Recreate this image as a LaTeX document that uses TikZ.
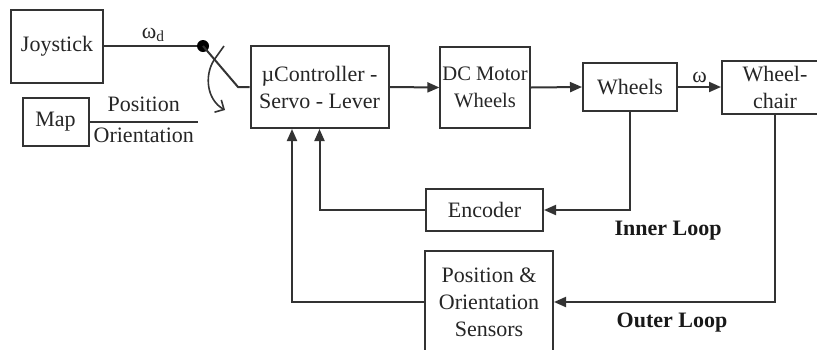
\documentclass[tikz,border=0pt]{standalone}
\usepackage{fontspec}
\setmainfont{Liberation Serif}
\usetikzlibrary{arrows.meta,positioning}
\tikzset{
  block/.style={draw=black!80, line width=1pt, fill=white, align=center, inner sep=1pt, text=black!85},
  sig/.style={-{Triangle[length=6pt,width=5pt]}, line width=1pt, black!80},
  wire/.style={line width=1pt, black!80},
  lbl/.style={inner sep=1.5pt, text=black!85},
  looplabel/.style={font=\fontsize{11}{13}\selectfont\bfseries, text=black!90}
}

\begin{document}
\begin{tikzpicture}[x=0.5pt,y=-0.5pt,font=\fontsize{11}{13.5}\selectfont]
  \useasboundingbox (0,0) rectangle (817,349);
  \clip (0,0) rectangle (817,349);
  \fill[white] (0,0) rectangle (817,349);
  % blocks
  \node[block, minimum width=46pt, minimum height=36.5pt] (joy) at (57,46) {Joystick};
  \node[block, minimum width=33pt, minimum height=24pt] (map) at (55.5,121.5) {Map};
  \node[block, minimum width=69pt, minimum height=41pt] (ctrl) at (319.5,87) {µController -\\Servo - Lever};
  \node[block, font=\fontsize{10.3}{13.5}\selectfont, minimum width=44pt, minimum height=40.5pt] (motor) at (485,87.5) {DC Motor\\Wheels};
  \node[block, minimum width=47pt, minimum height=24pt] (wheels) at (630,87) {Wheels};
  \node[block, minimum width=53pt, minimum height=26.5pt] (chair) at (775,87) {Wheel-\\chair};
  \node[block, minimum width=58.5pt, minimum height=21pt] (enc) at (484.5,210) {Encoder};
  \node[block, minimum width=64pt, minimum height=51pt] (sens) at (489,302) {Position \&\\Orientation\\Sensors};
  % switch
  \coordinate (sw) at (203,46);
  \coordinate (knee) at (238,87);
  \coordinate (mapend) at (198,121.5);
  \draw[wire] (joy.east) -- node[lbl, above] {ω\textsubscript{d}} (sw);
  \fill[black] (sw) circle (3pt);
  \draw[wire] (sw) -- (knee) -- (ctrl.west |- knee);
  \draw[line width=0.8pt, black!80] (224,46) -- (214,60);
  \draw[line width=0.8pt, black!80, -{Straight Barb[length=3.5pt,width=7pt]}] (214,60) .. controls (204,76) and (207,100) .. (225,110);
  \draw[wire] (map.east) -- node[lbl, above, inner sep=4.5pt] {Position} node[lbl, below, inner sep=2.5pt] {Orientation} (mapend);
  % forward path
  \draw[sig] (ctrl.east) -- (motor.west);
  \draw[sig] (motor.east) -- (wheels.west);
  \draw[sig] (wheels.east) -- node[lbl, above] {ω} (chair.west);
  % loops
  \draw[sig] (wheels.south) |- (enc.east);
  \draw[sig] (enc.west) -| (ctrl.south);
  \draw[sig] (chair.south) |- (sens.east);
  \draw[sig] (sens.west) -| ([xshift=-13.75pt]ctrl.south);
  \node[looplabel] (inner) at (668,231) {Inner Loop};
  \node[looplabel] (outer) at (672,323) {Outer Loop};
\end{tikzpicture}
\end{document}
